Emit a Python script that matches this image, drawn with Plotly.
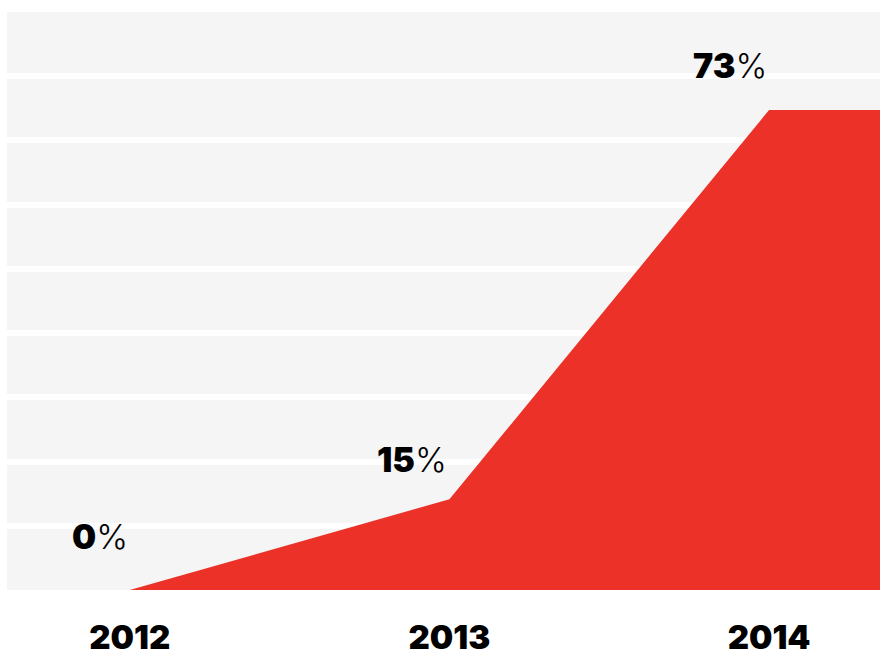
import plotly.graph_objects as go

# ---- data ----
years = [2012, 2013, 2014]
year_labels = ["2012", "2013", "2014"]
shares = [0, 13.8, 73]            # plotted heights
share_labels = ["0", "15", "73"]  # printed labels

# ---- styling ----
RED = "#EB3128"
BAND = "#F5F5F5"
FONT = "Inter"
x_min, x_max = 2011.616, 2014.347
y_max = 87.9
label_shift = [54, 40, 44]  # px above each point (label centre)

fig = go.Figure()

# area extends flat to the right edge of the plot
xs = years + [x_max]
ys = shares + [shares[-1]]
fig.add_trace(go.Scatter(
    x=xs, y=ys, mode="lines", line=dict(width=0, color=RED),
    fill="tozeroy", fillcolor=RED, hoverinfo="skip", showlegend=False,
))

for x, y, lab, sh in zip(years, shares, share_labels, label_shift):
    fig.add_annotation(
        x=x, y=y, xref="x", yref="y",
        text=f"<span style='font-weight:900'>{lab}</span>%",
        showarrow=False, xanchor="right", yanchor="middle",
        yshift=sh, xshift=0,
        font=dict(family=FONT, size=34, color="black", weight=300),
    )

fig.update_layout(
    width=880, height=657,
    margin=dict(l=7, r=0, t=12, b=67),
    paper_bgcolor="white", plot_bgcolor=BAND,
    xaxis=dict(
        range=[x_min, x_max], tickvals=years, ticktext=year_labels,
        showgrid=False, zeroline=False, showline=False, ticks="",
        ticklabelstandoff=25, automargin=False,
        tickfont=dict(family=FONT, size=33, color="black", weight=900),
    ),
    yaxis=dict(
        range=[0, y_max], tick0=0, dtick=y_max / 9,
        showgrid=True, gridcolor="white", gridwidth=6,
        zeroline=False, showline=False, showticklabels=False, ticks="",
        automargin=False,
    ),
)

fig.write_html(
    "out.html",
    config={"displayModeBar": False},
    post_script="document.body.style.margin='0';document.body.style.overflow='hidden';",
)
